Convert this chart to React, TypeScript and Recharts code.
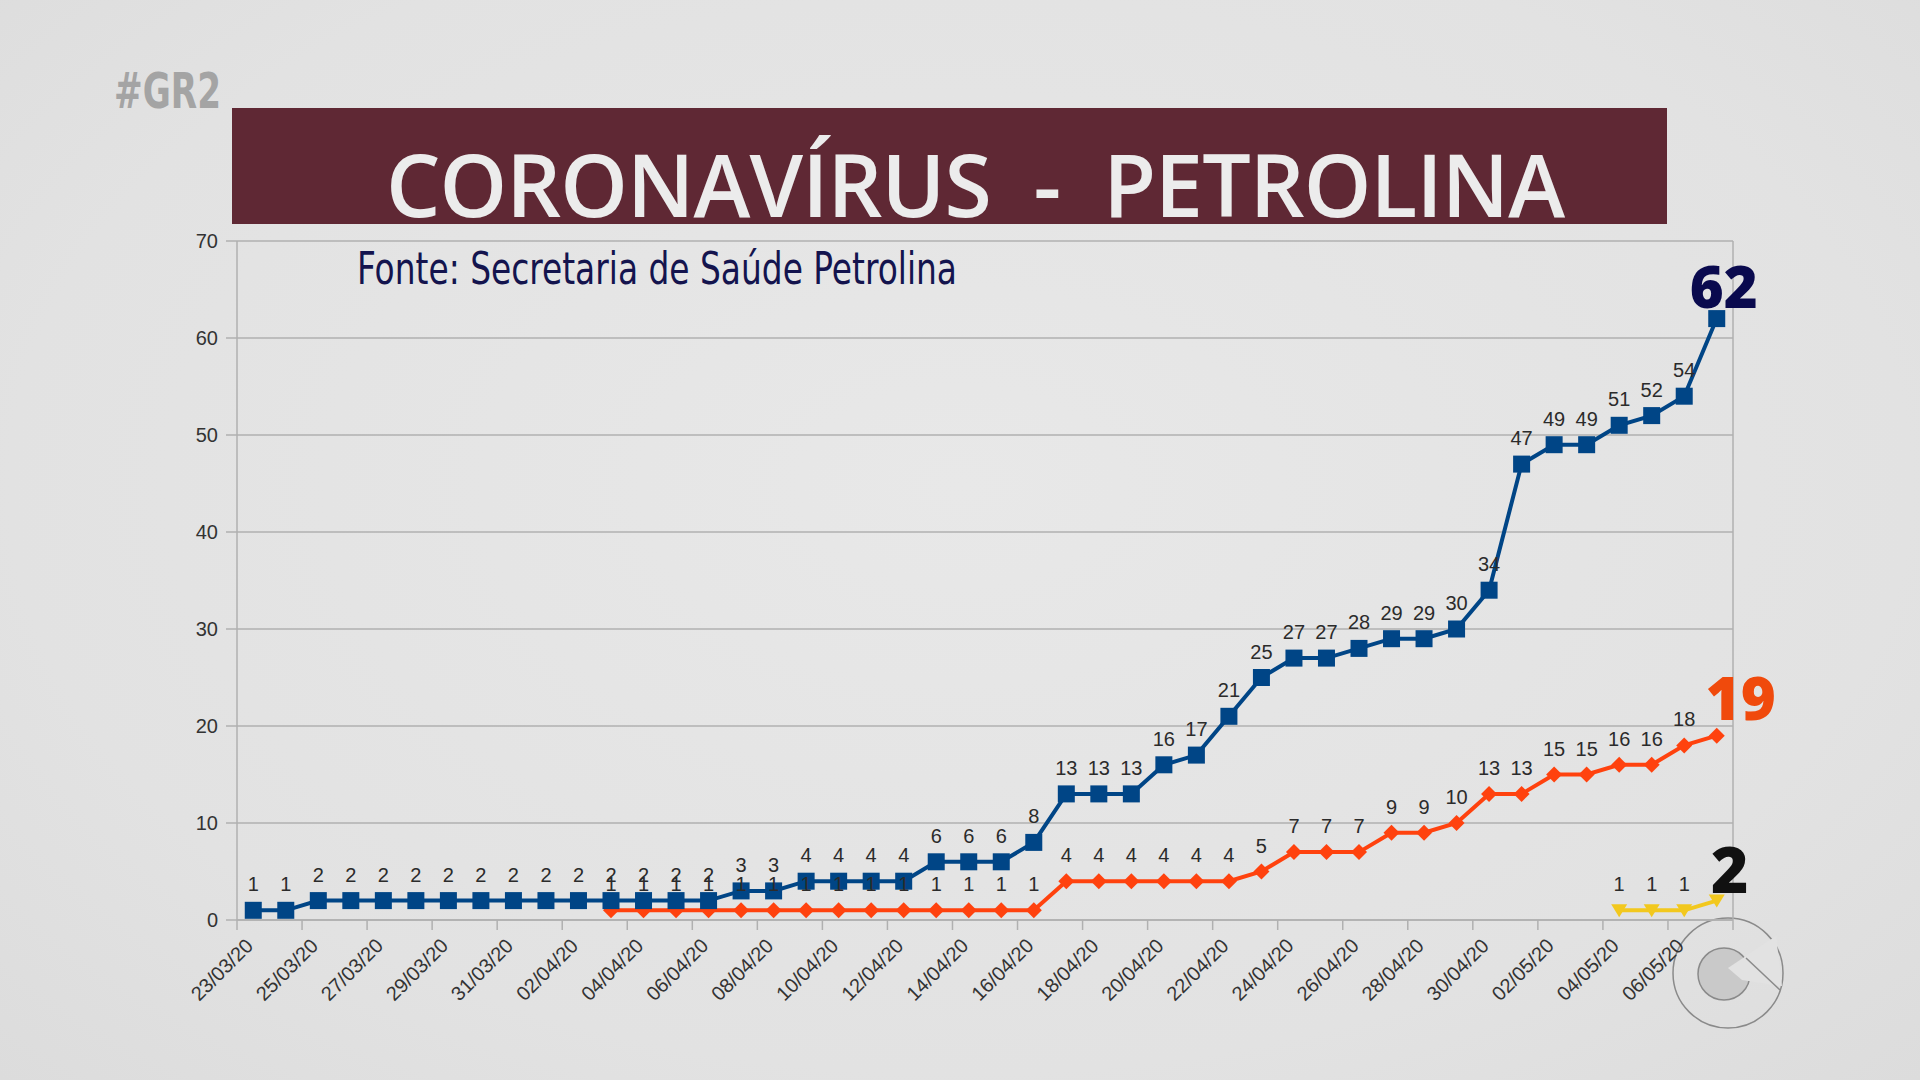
import { CartesianGrid, LabelList, Line, LineChart, ReferenceLine, XAxis, YAxis } from "recharts";

const dates = [
  "23/03/20", "24/03/20", "25/03/20", "26/03/20", "27/03/20", "28/03/20", "29/03/20", "30/03/20", "31/03/20",
  "01/04/20", "02/04/20", "03/04/20", "04/04/20", "05/04/20", "06/04/20", "07/04/20", "08/04/20", "09/04/20",
  "10/04/20", "11/04/20", "12/04/20", "13/04/20", "14/04/20", "15/04/20", "16/04/20", "17/04/20", "18/04/20",
  "19/04/20", "20/04/20", "21/04/20", "22/04/20", "23/04/20", "24/04/20", "25/04/20", "26/04/20", "27/04/20",
  "28/04/20", "29/04/20", "30/04/20", "01/05/20", "02/05/20", "03/05/20", "04/05/20", "05/05/20", "06/05/20",
  "07/05/20",
];

const confirmados = [
  1, 1, 2, 2, 2, 2, 2, 2, 2, 2, 2, 2, 2, 2, 2, 3, 3, 4, 4, 4, 4, 6, 6, 6, 8, 13, 13, 13, 16, 17, 21, 25, 27, 27,
  28, 29, 29, 30, 34, 47, 49, 49, 51, 52, 54, 62,
];

const curados = [
  null, null, null, null, null, null, null, null, null, null, null, 1, 1, 1, 1, 1, 1, 1, 1, 1, 1, 1, 1, 1, 1,
  4, 4, 4, 4, 4, 4, 5, 7, 7, 7, 9, 9, 10, 13, 13, 15, 15, 16, 16, 18, 19,
];

const obitos = [
  null, null, null, null, null, null, null, null, null, null, null, null, null, null, null, null, null, null,
  null, null, null, null, null, null, null, null, null, null, null, null, null, null, null, null, null, null,
  null, null, null, null, null, null, 1, 1, 1, 2,
];

const yTicks = [0, 10, 20, 30, 40, 50, 60, 70];

const rows = dates.map((date, i) => ({
  date,
  confirmados: confirmados[i],
  curados: curados[i],
  obitos: obitos[i],
}));

const BLUE = "#004586";
const ORANGE = "#ff420e";
const YELLOW = "#f2c81e";
const GRID = "#b0b0b0";
const LABEL = "#2b2b2b";
const FONT = "'Liberation Sans', Arial, sans-serif";
const last = dates.length - 1;

function Square(props: any) {
  const { cx, cy, index } = props;
  if (cx == null || cy == null) return <g key={index} />;
  return <rect key={index} x={cx - 8.5} y={cy - 8.5} width={17} height={17} fill={BLUE} />;
}

function Diamond(props: any) {
  const { cx, cy, index } = props;
  if (cx == null || cy == null) return <g key={index} />;
  return (
    <polygon
      key={index}
      points={`${cx},${cy - 8} ${cx + 8},${cy} ${cx},${cy + 8} ${cx - 8},${cy}`}
      fill={ORANGE}
    />
  );
}

function Triangle(props: any) {
  const { cx, cy, index } = props;
  if (cx == null || cy == null) return <g key={index} />;
  return (
    <polygon
      key={index}
      points={`${cx - 8},${cy - 6} ${cx + 8},${cy - 6} ${cx},${cy + 7}`}
      fill={YELLOW}
    />
  );
}

function makeLabel(big: { dx: number; dy: number; size: number; color: string }) {
  return (props: any) => {
    const { x, y, value, index } = props;
    if (value == null || x == null) return null;
    if (index === last) {
      return (
        <text
          x={x + big.dx}
          y={y + big.dy}
          textAnchor="middle"
          fontFamily="'Open Sans', sans-serif"
          fontWeight={800}
          fontSize={big.size}
          fill={big.color}
        >
          {value}
        </text>
      );
    }
    return (
      <text x={x} y={y - 19} textAnchor="middle" fontFamily={FONT} fontSize={20} fill={LABEL}>
        {value}
      </text>
    );
  };
}

function DateTick(props: any) {
  const { x, y, payload } = props;
  const i = payload?.index ?? props.index;
  const half = payload?.offset || 16.26;
  return (
    <g>
      {i % 2 === 0 && <line x1={x - half} x2={x - half} y1={y} y2={y + 10} stroke={GRID} strokeWidth={1.5} />}
      {i === last && <line x1={x + half} x2={x + half} y1={y} y2={y + 10} stroke={GRID} strokeWidth={1.5} />}
      {i % 2 === 0 && (
        <text
          x={x + 1}
          y={y + 27}
          transform={`rotate(-45 ${x + 1} ${y + 27})`}
          textAnchor="end"
          fontFamily={FONT}
          fontSize={20}
          fill="#333"
        >
          {payload.value}
        </text>
      )}
    </g>
  );
}

export default function App() {
  return (
    <div
      style={{
        position: "absolute",
        left: 0,
        top: 0,
        width: 1920,
        height: 1080,
        background: "radial-gradient(ellipse at 50% 45%, #e8e8e8 0%, #e2e2e2 70%, #dcdcdc 100%)",
        overflow: "hidden",
      }}
    >
      <svg width={1920} height={1080} style={{ position: "absolute", left: 0, top: 0 }}>
        <text
          x={114}
          y={108}
          fontFamily="'Liberation Sans Narrow', 'DejaVu Sans Condensed', sans-serif"
          fontWeight={700}
          fontSize={50}
          fill="#a4a4a4"
          textLength={107}
          lengthAdjust="spacingAndGlyphs"
        >
          #GR2
        </text>
        <rect x={232} y={108} width={1435} height={116} fill="#5f2834" />
        <text
          x={386}
          y={217}
          fontFamily="'Open Sans', sans-serif"
          fontWeight={600}
          fontSize={86}
          fill="#ececec"
          textLength={1179}
          lengthAdjust="spacing"
        >
          {"CORONAVÍRUS\u00a0\u00a0-\u00a0\u00a0PETROLINA"}
        </text>
        <text
          x={357}
          y={284}
          fontFamily="'Liberation Sans Narrow', 'DejaVu Sans Condensed', sans-serif"
          fontSize={44}
          fill="#14144e"
          textLength={600}
          lengthAdjust="spacingAndGlyphs"
        >
          Fonte: Secretaria de Saúde Petrolina
        </text>
        <g stroke="#8a8a8a" strokeWidth={1.5}>
          <circle cx={1728} cy={973} r={55} fill="none" />
          <circle cx={1724} cy={974} r={26} fill="#c9c9c9" />
          <polygon points="1728,968 1776,936 1782,986 1742,980" fill="#e2e2e2" stroke="none" />
          <line x1={1746} y1={958} x2={1780} y2={990} />
        </g>
      </svg>
      <div style={{ position: "absolute", left: 0, top: 0 }}>
        <LineChart width={1920} height={1080} data={rows} margin={{ top: 241, right: 187, bottom: 60, left: 177 }}>
          <CartesianGrid vertical={false} stroke={GRID} strokeWidth={1.5} />
          <XAxis
            dataKey="date"
            scale="band"
            interval={0}
            height={100}
            tickLine={false}
            tickSize={0}
            tickMargin={0}
            axisLine={{ stroke: GRID, strokeWidth: 1.5 }}
            tick={<DateTick />}
          />
          <YAxis
            domain={[0, 70]}
            ticks={yTicks}
            width={60}
            tickSize={11}
            tickMargin={8}
            tickLine={{ stroke: GRID, strokeWidth: 1.5 }}
            axisLine={{ stroke: GRID, strokeWidth: 1.5 }}
            tick={{ fontFamily: FONT, fontSize: 20, fill: "#333" }}
          />
          <ReferenceLine x={dates[last]} position="end" stroke={GRID} strokeWidth={1.5} />
          <Line
            dataKey="curados"
            stroke={ORANGE}
            strokeWidth={4}
            dot={<Diamond />}
            activeDot={false}
            connectNulls={false}
            isAnimationActive={false}
          >
            <LabelList dataKey="curados" content={makeLabel({ dx: 24, dy: -16, size: 60, color: "#f04a0c" })} />
          </Line>
          <Line
            dataKey="confirmados"
            stroke={BLUE}
            strokeWidth={4}
            dot={<Square />}
            activeDot={false}
            isAnimationActive={false}
          >
            <LabelList dataKey="confirmados" content={makeLabel({ dx: 7, dy: -11, size: 58, color: "#0a0a4e" })} />
          </Line>
          <Line
            dataKey="obitos"
            stroke={YELLOW}
            strokeWidth={4}
            dot={<Triangle />}
            activeDot={false}
            isAnimationActive={false}
          >
            <LabelList dataKey="obitos" content={makeLabel({ dx: 13, dy: -8, size: 64, color: "#111" })} />
          </Line>
        </LineChart>
      </div>
    </div>
  );
}
